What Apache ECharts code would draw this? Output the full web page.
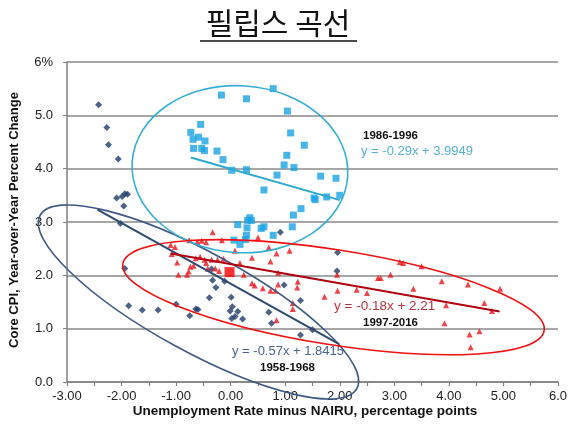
<!DOCTYPE html>
<html><head><meta charset="utf-8">
<script src="https://cdn.jsdelivr.net/npm/echarts@6/dist/echarts.min.js"></script>
<style>html,body{margin:0;padding:0;background:#fff}#c{width:570px;height:427px}</style>
</head><body><div id="c"></div>
<script>
const xTickLabels = ["-3.00","-2.00","-1.00","0.00","1.00","2.00","3.00","4.00","5.00","6.0"];
const yTickLabels = ["0.0","1.0","2.0","3.0","4.0","5.0","6%"];

const s1958 = [[-2.42,5.20],[-2.27,4.77],[-2.24,4.45],[-2.06,4.18],[-2.09,3.45],[-1.99,3.48],[-1.94,3.53],[-1.89,3.52],[-1.96,3.30],[-2.02,2.97],[-1.94,2.13],[-1.87,1.43],[-1.62,1.35],[-1.33,1.35],[-1.00,1.46],[-0.64,1.37],[-0.60,1.36],[-0.75,1.24],[-0.39,1.58],[-0.33,1.91],[-0.27,1.77],[-0.35,2.12],[-0.11,1.89],[0.01,1.59],[0.03,1.41],[-0.01,1.33],[0.13,1.32],[0.08,1.23],[0.02,1.19],[0.22,1.18],[0.91,2.81],[1.96,2.43],[1.95,2.08],[0.98,1.82],[1.28,1.53],[0.70,1.31],[0.75,1.10],[1.28,0.88],[1.50,0.98]];
const s1986 = [[-0.17,5.38],[0.29,5.31],[0.78,5.50],[1.04,5.08],[-0.55,4.83],[-0.73,4.68],[-0.69,4.55],[-0.59,4.59],[-0.47,4.52],[-0.68,4.38],[-0.53,4.38],[-0.48,4.34],[-0.25,4.33],[-0.14,4.17],[0.02,3.97],[0.29,3.98],[1.10,4.67],[1.35,4.44],[1.03,4.25],[0.98,4.07],[1.16,4.02],[0.85,3.88],[0.61,3.60],[1.29,3.25],[1.15,3.13],[0.35,3.08],[0.38,3.03],[0.31,3.03],[0.13,2.95],[0.61,2.91],[1.13,2.91],[0.30,2.89],[0.29,2.75],[0.06,2.66],[0.17,2.58],[0.27,2.67],[0.78,2.75],[0.56,2.88],[1.65,3.86],[1.93,3.82],[1.53,3.45],[1.55,3.42],[1.76,3.47],[2.00,3.50]];
const s1997 = [[-0.33,2.81],[-1.10,2.57],[-1.02,2.53],[-0.76,2.66],[-0.61,2.63],[-0.53,2.65],[-0.45,2.62],[-0.16,2.66],[-1.08,2.40],[-0.98,2.24],[-0.96,2.01],[-0.80,2.01],[-0.77,2.07],[-0.74,2.16],[-0.68,2.18],[-0.64,2.32],[-0.56,2.35],[-0.48,2.29],[-0.45,2.23],[-0.35,2.29],[-0.24,2.29],[-0.13,2.31],[-0.42,2.13],[-0.28,2.13],[-0.21,2.08],[0.50,2.71],[0.70,2.52],[0.84,2.41],[1.08,2.46],[0.08,2.46],[0.39,2.33],[0.73,2.26],[0.17,2.23],[0.24,2.01],[0.87,2.05],[0.39,1.85],[0.44,1.81],[0.59,1.76],[0.73,1.71],[0.82,1.71],[0.87,1.83],[1.23,1.88],[1.22,1.77],[1.14,1.48],[1.14,1.37],[0.84,1.16],[1.72,1.60],[1.96,1.71],[1.95,2.01],[3.10,2.25],[3.16,2.23],[3.50,2.17],[2.93,2.01],[2.70,1.95],[2.75,1.95],[3.87,1.89],[4.35,1.83],[4.94,1.75],[3.35,1.75],[2.31,1.73],[2.50,1.67],[4.65,1.48],[3.95,1.44],[4.79,1.33],[3.92,1.10],[4.56,0.95],[4.38,0.89],[4.40,0.65]];
const latestPoint = [[-0.02,2.06]];

const fit1958 = [[-2.44,3.23],[1.99,0.71]];
const fit1986 = [[-0.73,4.21],[2.00,3.41]];
const fit1997 = [[-1.10,2.41],[4.93,1.32]];

// ellipse outlines: [centerX, centerY, semiMajor, semiMinor (in x-axis units), tilt deg]
const ellipse1958 = [-0.59,1.50,3.31,0.91,28.7];
const ellipse1986 = [0.17,3.99,1.98,1.53,4];
const ellipse1997 = [1.885,1.59,3.91,0.87,9];

const chart = echarts.init(document.getElementById('c'));
function ellipseSeries(params, color){
  return {
    type:'custom', clip:false, z:5, silent:true,
    data:[params],
    renderItem:function(p, api){
      const c = api.coord([api.value(0), api.value(1)]);
      const u = api.size([1,0])[0];
      return {type:'ellipse', x:c[0], y:c[1], rotation:-api.value(4)*Math.PI/180,
        shape:{cx:0, cy:0, rx:api.value(2)*u, ry:api.value(3)*u},
        style:{fill:null, stroke:color, lineWidth:1.6}};
    }
  };
}
function fitLine(d, color){
  return {type:'line', data:d, symbol:'none', z:6, silent:true, lineStyle:{color:color, width:2}};
}
const txt = (text, left, top, size, color, bold) => ({type:'text', left:left, top:top,
  style:{text:text, fontSize:size, fill:color, fontWeight:bold?'bold':'normal', fontFamily:'Liberation Sans, Arial, sans-serif'}});

chart.setOption({
  animation:false,
  backgroundColor:'#fff',
  grid:{left:67, right:8, top:62, bottom:45},
  xAxis:{type:'value', min:-3, max:6, interval:0.5,
    axisLine:{onZero:false, lineStyle:{color:'#808080', width:1.5}},
    axisTick:{show:true, length:4, lineStyle:{color:'#808080', width:1.2}},
    splitLine:{show:false},
    axisLabel:{margin:8, fontSize:13, color:'#222', fontFamily:'Liberation Sans, Arial, sans-serif',
      formatter:function(v){ const r=Math.round(v); return Math.abs(v-r)<1e-6 ? xTickLabels[r+3] : ''; }}
  },
  yAxis:{type:'value', min:0, max:6, interval:1,
    axisLine:{show:true, onZero:false, lineStyle:{color:'#808080', width:1.5}},
    axisTick:{show:true, length:4, lineStyle:{color:'#808080'}},
    splitLine:{show:true, lineStyle:{color:'#8a8a8a', width:1.5}},
    axisLabel:{margin:14, fontSize:13, color:'#222', fontFamily:'Liberation Sans, Arial, sans-serif',
      formatter:function(v){ return yTickLabels[Math.round(v)]; }}
  },
  graphic:[
    {type:'text', x:278, y:8, style:{text:'필립스 곡선', fontSize:30, fill:'#111', align:'center', fontFamily:'Noto Sans CJK KR', fontWeight:'normal'}},
    {type:'line', shape:{x1:200, y1:41, x2:357, y2:41}, style:{stroke:'#111', lineWidth:1.5}},
    {type:'text', x:14, y:220, rotation:Math.PI/2, style:{text:'Core CPI, Year-over-Year Percent Change', fontSize:13, fontWeight:'bold', fill:'#111', align:'center', verticalAlign:'middle', fontFamily:'Liberation Sans, Arial, sans-serif'}},
    {type:'text', x:305, y:411, style:{text:'Unemployment Rate minus NAIRU, percentage points', fontSize:13.5, fontWeight:'bold', fill:'#111', align:'center', verticalAlign:'middle', fontFamily:'Liberation Sans, Arial, sans-serif'}},
    txt('1986-1996', 363, 130, 11.5, '#111', true),
    txt('y = -0.29x + 3.9949', 361, 145, 13, '#55b3d6', false),
    txt('y = -0.18x + 2.21', 334, 299, 13.5, '#b8323a', false),
    txt('1997-2016', 363, 317, 11.5, '#111', true),
    txt('y = -0.57x + 1.8415', 232, 345, 13, '#4a6491', false),
    txt('1958-1968', 260, 362, 11.5, '#111', true)
  ],
  series:[
    {type:'scatter', name:'1958-1968', data:s1958, symbol:'diamond', symbolSize:7, itemStyle:{color:'#1f3b68'}, z:3},
    {type:'scatter', name:'1986-1996', data:s1986, symbol:'rect', symbolSize:7, itemStyle:{color:'#1aa3e3'}, z:3},
    {type:'scatter', name:'1997-2016', data:s1997, symbol:'triangle', symbolSize:6, itemStyle:{color:'#e8141b'}, z:3},
    {type:'scatter', name:'latest', data:latestPoint, symbol:'rect', symbolSize:10, itemStyle:{color:'#ff0000'}, z:4},
    fitLine(fit1958, '#2f4a72'),
    fitLine(fit1986, '#2ea9cf'),
    fitLine(fit1997, '#b00010'),
    ellipseSeries(ellipse1958, '#3f5a85'),
    ellipseSeries(ellipse1986, '#35aed6'),
    ellipseSeries(ellipse1997, '#f01010')
  ]
});
</script></body></html>
